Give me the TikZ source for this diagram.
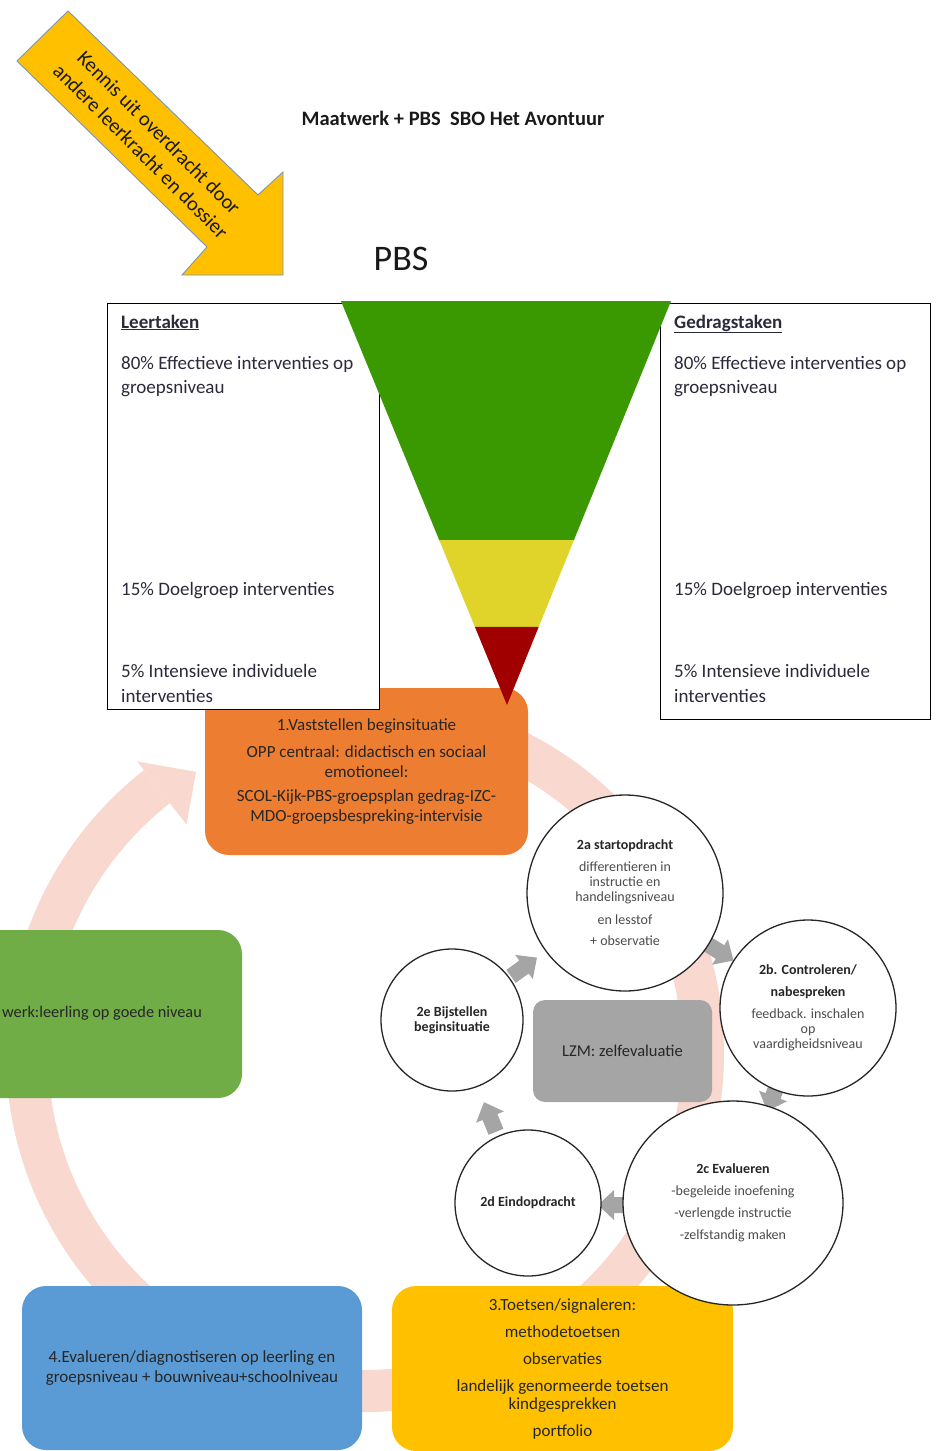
\documentclass[tikz,border=0pt]{standalone}
\usepackage{fontspec}
\setmainfont{Carlito}
\usetikzlibrary{calc,shapes.geometric}
\definecolor{arrowyellow}{HTML}{FFC000}
\definecolor{arrowedge}{HTML}{7F93AD}
\definecolor{pbsgreen}{HTML}{3A9900}
\definecolor{pbsyellow}{HTML}{E0D42A}
\definecolor{pbsred}{HTML}{A00000}
\definecolor{ringpink}{HTML}{F8D8CF}
\definecolor{orangebox}{HTML}{ED7D31}
\definecolor{greenbox}{HTML}{70AD47}
\definecolor{bluebox}{HTML}{5B9BD5}
\definecolor{yellowbox}{HTML}{FFC000}
\definecolor{graybox}{HTML}{A5A5A5}
\definecolor{navytext}{HTML}{2A2A3C}
\definecolor{darktext}{HTML}{262626}
\begin{document}
\begin{tikzpicture}[x=1pt,y=-1pt,
  ring/.style={draw=ringpink,line width=42pt},
  cyclebox/.style={draw=none,rounded corners=24pt,inner sep=0pt,align=center,text=darktext,font=\fontsize{17}{20}\selectfont},
  stepcircle/.style={circle,draw=black!85,line width=1.3pt,fill=white,inner sep=0pt,align=center,text=black!70,font=\fontsize{14}{15}\selectfont},
  grayarrow/.style={fill=graybox,draw=none},
  pbsbox/.style={draw=black,line width=1.3pt,fill=white,rectangle,inner sep=0pt,anchor=north west},
  boxtext/.style={anchor=base west,text=navytext,font=\fontsize{19}{23}\selectfont,inner sep=0pt},
]
\useasboundingbox (0,0) rectangle (939,1451);
\begin{scope}
\clip (0,0) rectangle (939,1451);

% ---- big pale cycle ring
\coordinate (rc) at (365,1053);
\draw[ring] ($(rc)+(270:338)$) arc[start angle=270,end angle=592,radius=338];
\fill[ringpink] ($(rc)+(232:290)$) -- ($(rc)+(232:370)$) -- ($(rc)+(239:328)$) -- cycle;

% ---- cycle boxes
\node[cyclebox,fill=orangebox,minimum width=323pt,minimum height=167pt] (s1) at (366.5,771.5)
  {1.Vaststellen beginsituatie\\[7pt]OPP centraal: didactisch en sociaal\\emotioneel:\\[4pt]SCOL-Kijk-PBS-groepsplan gedrag-IZC-\\MDO-groepsbespreking-intervisie};
\node[cyclebox,fill=greenbox,minimum width=330pt,minimum height=168pt] (s5) at (77,1014) {};
\node[anchor=east,inner sep=0pt,text=darktext,font=\fontsize{16.3}{20}\selectfont] (s5text) at (202,1013) {werk:leerling op goede niveau};
\node[cyclebox,fill=bluebox,minimum width=340pt,minimum height=164pt] (s4) at (192,1368)
  {4.Evalueren/diagnostiseren op leerling en\\groepsniveau + bouwniveau+schoolniveau};
\node[cyclebox,fill=yellowbox,minimum width=341pt,minimum height=165pt,font=\fontsize{17}{18}\selectfont] (s3) at (562.5,1368.5)
  {3.Toetsen/signaleren:\\[9pt]methodetoetsen\\[9pt]observaties\\[9pt]landelijk genormeerde toetsen\\kindgesprekken\\[9pt]portfolio};

% ---- inner cycle
\node[cyclebox,fill=graybox,rounded corners=12pt,minimum width=179pt,minimum height=102pt,font=\fontsize{16.5}{19}\selectfont] (lzm) at (622.5,1051) {LZM: zelfevaluatie};

\fill[grayarrow,shift={(720,952)},rotate=-32] (-16,-8) -- (0,-8) -- (0,-15) -- (16,0) -- (0,15) -- (0,8) -- (-16,8) -- cycle;
\fill[grayarrow,shift={(773,1096)},rotate=-111] (-16,-8) -- (0,-8) -- (0,-15) -- (16,0) -- (0,15) -- (0,8) -- (-16,8) -- cycle;
\fill[grayarrow,shift={(614,1205)},rotate=180] (-16,-8) -- (0,-8) -- (0,-15) -- (16,0) -- (0,15) -- (0,8) -- (-16,8) -- cycle;
\fill[grayarrow,shift={(490,1117)},rotate=112] (-16,-8) -- (0,-8) -- (0,-15) -- (16,0) -- (0,15) -- (0,8) -- (-16,8) -- cycle;
\fill[grayarrow,shift={(524,967)},rotate=36] (-16,-8) -- (0,-8) -- (0,-15) -- (16,0) -- (0,15) -- (0,8) -- (-16,8) -- cycle;

\node[stepcircle,minimum size=196pt] (c2a) at (625,893)
  {{\bfseries\color{black!85}2a startopdracht}\\[7pt]differentieren in\\instructie en\\handelingsniveau\\[8pt]en lesstof\\[6pt]+ observatie};
\node[stepcircle,minimum size=176pt] (c2b) at (808,1008)
  {{\bfseries\color{black!85}2b. Controleren/}\\[7pt]{\bfseries\color{black!85}nabespreken}\\[7pt]feedback. inschalen\\op\\vaardigheidsniveau};
\node[stepcircle,ellipse,minimum width=220pt,minimum height=204pt] (c2c) at (733,1203)
  {{\bfseries\color{black!85}2c Evalueren}\\[7pt]-begeleide inoefening\\[7pt]-verlengde instructie\\[7pt]-zelfstandig maken};
\node[stepcircle,minimum size=146pt] (c2d) at (528,1203)
  {{\bfseries\color{black!85}2d Eindopdracht}};
\node[stepcircle,minimum size=142pt] (c2e) at (452,1020)
  {{\bfseries\color{black!85}2e Bijstellen}\\{\bfseries\color{black!85}beginsituatie}};

% ---- PBS boxes
\node[pbsbox,minimum width=272pt,minimum height=406pt] (leer) at (107,303) {};
\node[boxtext] (leer0) at (121,328) {\underline{\textbf{Leertaken}}};
\node[boxtext] (leer1) at (121,369) {80\% Effectieve interventies op};
\node[boxtext] (leer2) at (121,393) {groepsniveau};
\node[boxtext] (leer3) at (121,595) {15\% Doelgroep interventies};
\node[boxtext] (leer4) at (121,677) {5\% Intensieve individuele};
\node[boxtext] (leer5) at (121,702) {interventies};

\node[pbsbox,minimum width=270pt,minimum height=416pt] (gedrag) at (660,303) {};
\node[boxtext] (ged0) at (674,328) {\underline{\textbf{Gedragstaken}}};
\node[boxtext] (ged1) at (674,369) {80\% Effectieve interventies op};
\node[boxtext] (ged2) at (674,393) {groepsniveau};
\node[boxtext] (ged3) at (674,595) {15\% Doelgroep interventies};
\node[boxtext] (ged4) at (674,677) {5\% Intensieve individuele};
\node[boxtext] (ged5) at (674,702) {interventies};

% ---- PBS funnel
\coordinate (tl) at (341,301);
\coordinate (tr) at (671,301);
\coordinate (apex) at (507,705);
\fill[pbsgreen] (tl) -- (tr) -- ($(tr)!0.5916!(apex)$) -- ($(tl)!0.5916!(apex)$) -- cycle;
\fill[pbsyellow] ($(tl)!0.5916!(apex)$) -- ($(tr)!0.5916!(apex)$) -- ($(tr)!0.8069!(apex)$) -- ($(tl)!0.8069!(apex)$) -- cycle;
\fill[pbsred] ($(tl)!0.8069!(apex)$) -- ($(tr)!0.8069!(apex)$) -- (apex) -- cycle;

% ---- titles
\node[font=\bfseries\fontsize{20.5}{24}\selectfont,text=black!90] (title) at (453,118) {Maatwerk + PBS\ \ SBO Het Avontuur};
\node[font=\fontsize{36}{40}\selectfont,text=black!90] (pbs) at (401,259) {PBS};

% ---- yellow block arrow
\draw[fill=arrowyellow,draw=arrowedge,line width=0.9pt] (68,11) -- (258,195) -- (283,172) -- (283,275) -- (182,275) -- (207,247) -- (17,61) -- cycle;
\node[rotate=-45,align=center,inner sep=0pt,text=black!90,font=\fontsize{20.5}{26}\selectfont] (kennis) at (150,142) {Kennis uit overdracht door\\andere leerkracht en dossier};
\end{scope}
\end{tikzpicture}
\end{document}
